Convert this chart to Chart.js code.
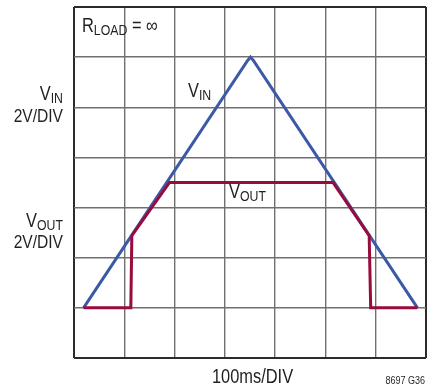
<!DOCTYPE html>
<html>
<head>
<meta charset="utf-8">
<script src="https://cdn.jsdelivr.net/npm/chart.js@4/dist/chart.umd.min.js"></script>
<style>
  body { margin: 0; background: #fff; }
  canvas { display: block; }
</style>
</head>
<body>
<canvas id="grafico" width="428" height="390"></canvas>
<script>
// curves in grid divisions (x: 100ms/DIV, y: 2V/DIV)
var vinX = [0.19, 3.45, 3.51, 3.57, 6.83];
var vinY = [1, 5.93, 6.0, 5.93, 1];
var voutX = [0.19, 1.13, 1.15, 1.9, 5.15, 5.87, 5.9, 6.83];
var voutY = [1, 1, 2.44, 3.5, 3.5, 2.44, 1, 1];
var divsX = 7;
var divsY = 7;

var FONT = '"Liberation Sans", Arial, sans-serif';
var ESTRECHO = 0.82; // condensed look, no narrow font installed
var TEXTO = '#231f20';

function puntos(xs, ys) {
  var res = [];
  for (var i = 0; i < xs.length; i++) res.push({x: xs[i], y: ys[i]});
  return res;
}

function ancho(ctx, s, tam) {
  ctx.font = tam + 'px ' + FONT;
  return ctx.measureText(s).width * ESTRECHO;
}

// draws narrowed text with its left edge at x
function texto(ctx, s, x, y, tam) {
  ctx.save();
  ctx.font = tam + 'px ' + FONT;
  ctx.textAlign = 'left';
  ctx.translate(x, y);
  ctx.scale(ESTRECHO, 1);
  ctx.fillText(s, 0, 0);
  ctx.restore();
  return x + ancho(ctx, s, tam);
}

function textoDer(ctx, s, x, y, tam) {
  return texto(ctx, s, x - ancho(ctx, s, tam), y, tam);
}

// main text + subscript
function conSub(ctx, main, sub, x, y, tamMain, tamSub, bajada, derecha) {
  var w = ancho(ctx, main, tamMain) + ancho(ctx, sub, tamSub);
  var x0 = derecha ? x - w : x;
  var x1 = texto(ctx, main, x0, y, tamMain);
  return texto(ctx, sub, x1, y + bajada, tamSub);
}

var textos = {
  id: 'textos',
  afterDraw: function(chart) {
    var ctx = chart.ctx;
    ctx.save();
    ctx.fillStyle = TEXTO;
    ctx.textBaseline = 'alphabetic';

    var fin = conSub(ctx, 'R', 'LOAD', 82, 32, 20, 15, 3, false);
    texto(ctx, ' = \u221E', fin, 32, 20);

    conSub(ctx, 'V', 'IN', 63, 100, 20, 15, 3, true);
    textoDer(ctx, '2V/DIV', 63, 122, 19);

    conSub(ctx, 'V', 'OUT', 63, 227, 20, 15, 3, true);
    textoDer(ctx, '2V/DIV', 63, 248, 19);

    conSub(ctx, 'V', 'IN', 188, 97, 20, 15, 3, false);
    conSub(ctx, 'V', 'OUT', 229, 198, 20, 15, 3, false);

    texto(ctx, '100ms/DIV', 212, 383, 20);
    textoDer(ctx, '8697 G36', 425, 384, 11);
    ctx.restore();
  }
};

function esBorde(c, max) {
  return c.tick && (c.tick.value === 0 || c.tick.value === max);
}

new Chart(document.getElementById('grafico').getContext('2d'), {
  type: 'scatter',
  data: {
    datasets: [
      {
        label: 'VIN',
        data: puntos(vinX, vinY),
        showLine: true,
        borderColor: '#3b59a6',
        borderWidth: 3,
        pointRadius: 0,
        order: 2
      },
      {
        label: 'VOUT',
        data: puntos(voutX, voutY),
        showLine: true,
        borderColor: '#980c3b',
        borderWidth: 3,
        pointRadius: 0,
        order: 1
      }
    ]
  },
  options: {
    responsive: false,
    animation: false,
    layout: { padding: { left: 74, top: 7, right: 2, bottom: 32 } },
    plugins: { legend: { display: false }, tooltip: { enabled: false } },
    scales: {
      x: {
        type: 'linear', min: 0, max: divsX,
        ticks: { display: false, stepSize: 1 },
        grid: {
          drawTicks: false,
          color: function(c) { return esBorde(c, divsX) ? '#2b2b2b' : '#707070'; },
          lineWidth: function(c) { return esBorde(c, divsX) ? 2 : 1.4; }
        },
        border: { display: false }
      },
      y: {
        type: 'linear', min: 0, max: divsY,
        ticks: { display: false, stepSize: 1 },
        grid: {
          drawTicks: false,
          color: function(c) { return esBorde(c, divsY) ? '#2b2b2b' : '#707070'; },
          lineWidth: function(c) { return esBorde(c, divsY) ? 2 : 1.4; }
        },
        border: { display: false }
      }
    }
  },
  plugins: [textos]
});
</script>
</body>
</html>
